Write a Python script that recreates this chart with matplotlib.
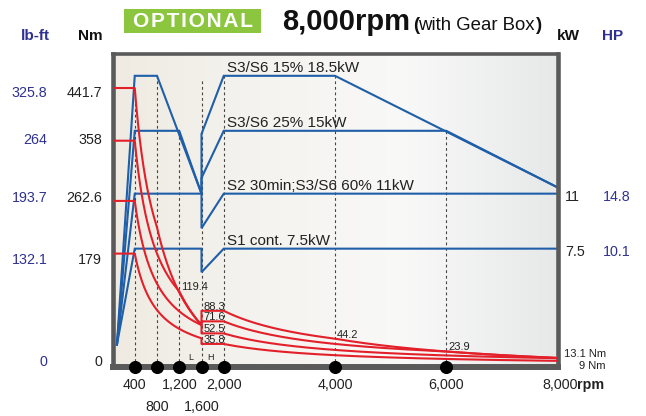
import numpy as np
import matplotlib
matplotlib.use("Agg")
import matplotlib.pyplot as plt
from matplotlib import font_manager

plt.rcParams["font.family"] = ["Liberation Sans", "DejaVu Sans"]
try:
    font_manager.findfont(font_manager.FontProperties(family="Liberation Sans Narrow"),
                          fallback_to_default=False)
    NARROW = ["Liberation Sans Narrow", "Liberation Sans", "DejaVu Sans"]
    NSIZE = 9
except Exception:
    NARROW = ["Liberation Sans", "DejaVu Sans"]
    NSIZE = 8

# ---------------- data ----------------
rpm_marks = [400, 800, 1200, 1600, 2000, 4000, 6000]
row1_rpm = [400, 1200, 2000, 4000, 6000]
row1_txt = ["400", "1,200", "2,000", "4,000", "6,000"]
row2_rpm = [800, 1600]
row2_txt = ["800", "1,600"]
dash_top_kw = [17.5, 18.5, 15, 18.3, 18.5, 18.5, 15]

curve_labels = ["S3/S6 15% 18.5kW", "S3/S6 25% 15kW",
                "S2 30min;S3/S6 60% 11kW", "S1 cont. 7.5kW"]
low_rpm = [[80, 400, 800, 1600], [80, 400, 1200, 1600], [80, 400, 1600], [80, 400, 1600]]
low_kw = [[1.4, 18.5, 18.5, 11], [1.4, 15, 15, 11], [1.4, 11, 11], [1.4, 7.5, 7.5]]
high_rpm = [[1600, 2000, 4000, 8000], [1600, 2000, 6000, 8000], [1600, 2000, 8000], [1600, 2000, 8000]]
high_kw = [[14.8, 18.5, 18.5, 11.4], [12, 15, 15, 11.4], [8.8, 11, 11], [6, 7.5, 7.5]]

nm_labels = ["441.7", "358", "262.6", "179", "0"]
lbft_labels = ["325.8", "264", "193.7", "132.1", "0"]
right_kw = [11, 7.5]
right_kw_txt = ["11", "7.5"]
right_hp_txt = ["14.8", "10.1"]

note_rpm = [1200, 1600, 1600, 1600, 1600, 4000, 6000]
note_nm = [119.4, 88.3, 71.6, 52.5, 35.8, 44.2, 23.9]
note_txt = ["119.4", "88.3", "71.6", "52.5", "35.8", "44.2", "23.9"]

BLUE = "#1f5ea8"
RED = "#e3202a"
FRAME = "#5a5a5a"
NAVY = "#2e3192"

W, H = 646, 416
def fx(px): return px / W
def fy(py): return 1 - py / H

fig = plt.figure(figsize=(6.46, 4.16), dpi=100)
fig.patch.set_facecolor("white")
ax = fig.add_axes([fx(112.5), fy(366.5), (557.5 - 112.5) / W, (366.5 - 53.5) / H])
KW_TOP = 19.92
NM_TOP = 496.4

# background gradient
stops = [0.0, 0.35, 0.65, 1.0]
cols = np.array([[0.937, 0.922, 0.886], [0.960, 0.955, 0.940],
                 [0.975, 0.975, 0.972], [0.905, 0.912, 0.912]])
t = np.linspace(0, 1, 400)
grad = np.stack([np.interp(t, stops, cols[:, c]) for c in range(3)], axis=-1)[None, :, :]
ax.imshow(grad, extent=[0, 8000, 0, KW_TOP], aspect="auto", zorder=0, interpolation="bilinear")
ax.set_xlim(0, 8000)
ax.set_ylim(0, KW_TOP)
for s in ax.spines.values():
    s.set_visible(False)
ax.set_xticks([]); ax.set_yticks([])

ax2 = ax.twinx()
ax2.set_ylim(0, NM_TOP)
ax2.set_yticks([])
for name, lw in [("left", 3.3), ("right", 3.3), ("top", 2.6), ("bottom", 4.3)]:
    ax2.spines[name].set_color(FRAME)
    ax2.spines[name].set_linewidth(lw)

# dashed verticals
ax.vlines(rpm_marks, 0, dash_top_kw, colors="#444444", linestyles=(0, (2.5, 2.5)), lw=0.8, zorder=1)

# power curves (blue)
for lr, lk, hr, hk in zip(low_rpm, low_kw, high_rpm, high_kw):
    ax.plot(lr + hr, lk + hk, color=BLUE, lw=1.5, zorder=3, solid_joinstyle="miter")

# torque curves (red) derived from the power curves: T = 9549.3 * P / n
for lr, lk, hr, hk in zip(low_rpm, low_kw, high_rpm, high_kw):
    n_lo = np.linspace(400, 1600, 200)
    p_lo = np.interp(n_lo, lr, lk)
    n_hi = np.linspace(1600, 8000, 500)
    p_hi = np.interp(n_hi, hr, hk)
    t_lo = 9549.3 * p_lo / n_lo
    t_hi = 9549.3 * p_hi / n_hi
    xs = np.concatenate([[0], n_lo, n_hi])
    ys = np.concatenate([[t_lo[0]], t_lo, t_hi])
    ax2.plot(xs, ys, color=RED, lw=1.5, zorder=3)

# dots on axis
ax2.plot(rpm_marks, [0] * len(rpm_marks), "o", ms=8.4, color="black", clip_on=False, zorder=6)

# curve labels
for lab, hk in zip(curve_labels, high_kw):
    ax.annotate(lab, xy=(2050, hk[1]), xytext=(0, 4), textcoords="offset pixels",
                fontsize=11, color="#222222", va="baseline", ha="left", zorder=7)

# torque notes
for n, v, s in zip(note_rpm, note_nm, note_txt):
    ax2.annotate(s, xy=(n, v), xytext=(2, 1), textcoords="offset pixels",
                 fontsize=NSIZE, family=NARROW, color="#222222", va="baseline", ha="left", zorder=7)

ax2.annotate("13.1 Nm", xy=(8000, 13.1), xytext=(6, 1), textcoords="offset pixels",
             fontsize=NSIZE, family=NARROW, color="#222222", va="baseline", ha="left", annotation_clip=False)
ax2.annotate("9 Nm", xy=(8000, 9), xytext=(48, -8), textcoords="offset pixels",
             fontsize=NSIZE, family=NARROW, color="#222222", va="baseline", ha="right", annotation_clip=False)

# L / H
ax2.annotate("L", xy=(1400, 0), xytext=(0, 9), textcoords="offset pixels", fontsize=6.5,
             color="#222222", ha="center", va="center")
ax2.annotate("H", xy=(1760, 0), xytext=(0, 9), textcoords="offset pixels", fontsize=6.5,
             color="#222222", ha="center", va="center")

# bottom tick labels
for n, s in zip(row1_rpm, row1_txt):
    ax2.annotate(s, xy=(n, 0), xytext=(0, -18.5), textcoords="offset pixels", fontsize=10.3,
                 color="#222222", ha="center", va="center", annotation_clip=False)
for n, s in zip(row2_rpm, row2_txt):
    ax2.annotate(s, xy=(n, 0), xytext=(0, -40.5), textcoords="offset pixels", fontsize=10.3,
                 color="#222222", ha="center", va="center", annotation_clip=False)
ax2.annotate("8,000", xy=(8000, 0), xytext=(3, -18.5), textcoords="offset pixels", fontsize=10.3,
             color="#222222", ha="center", va="center", annotation_clip=False)
ax2.annotate("rpm", xy=(8000, 0), xytext=(19.5, -18.5), textcoords="offset pixels", fontsize=10.3,
             fontweight="bold", color="#222222", ha="left", va="center", annotation_clip=False)

# left axis labels
left_y = [93, 140, 197.5, 260, 362.5]
for s1, s2, py in zip(lbft_labels, nm_labels, left_y):
    fig.text(fx(47.5), fy(py), s1, fontsize=10.3, color=NAVY, ha="right", va="center")
    fig.text(fx(102), fy(py), s2, fontsize=10.3, color="#222222", ha="right", va="center")

# right axis labels
for kw, s1, s2 in zip(right_kw, right_kw_txt, right_hp_txt):
    ax.annotate(s1, xy=(8000, kw), xytext=(7.5, -3), textcoords="offset pixels", fontsize=10.3,
                color="#222222", ha="left", va="center", annotation_clip=False)
    ax.annotate(s2, xy=(8000, kw), xytext=(45.5, -3), textcoords="offset pixels", fontsize=10.3,
                color=NAVY, ha="left", va="center", annotation_clip=False)

# header
fig.text(fx(35), fy(36), "lb-ft", fontsize=11, fontweight="bold", color=NAVY, ha="center", va="center")
fig.text(fx(90), fy(36), "Nm", fontsize=11, fontweight="bold", color="#111111", ha="center", va="center")
fig.text(fx(568.5), fy(36), "kW", fontsize=11, fontweight="bold", color="#111111", ha="center", va="center")
fig.text(fx(613), fy(36), "HP", fontsize=11, fontweight="bold", color=NAVY, ha="center", va="center")

box = plt.Rectangle((fx(124), fy(33)), (261 - 124) / W, (33 - 9) / H, transform=fig.transFigure,
                    facecolor="#8cc63f", edgecolor="none")
fig.patches.append(box)
fig.text(fx(193), fy(21.5), "O P T I O N A L".replace(" ", "\u200a"), fontsize=15, fontweight="bold",
         color="white", ha="center", va="center", family=["Liberation Sans", "DejaVu Sans"])
fig.text(fx(282), fy(30), "8,000rpm", fontsize=21, fontweight="bold", color="#111111",
         ha="left", va="baseline")
fig.text(fx(413), fy(30), "(", fontsize=13.4, fontweight="bold", color="#111111", ha="left", va="baseline")
fig.text(fx(418), fy(30), "with Gear Box", fontsize=13.4, color="#111111", ha="left", va="baseline")
fig.text(fx(542), fy(30), ")", fontsize=13.4, fontweight="bold", color="#111111", ha="right", va="baseline")

fig.savefig("out.png", dpi=100)
